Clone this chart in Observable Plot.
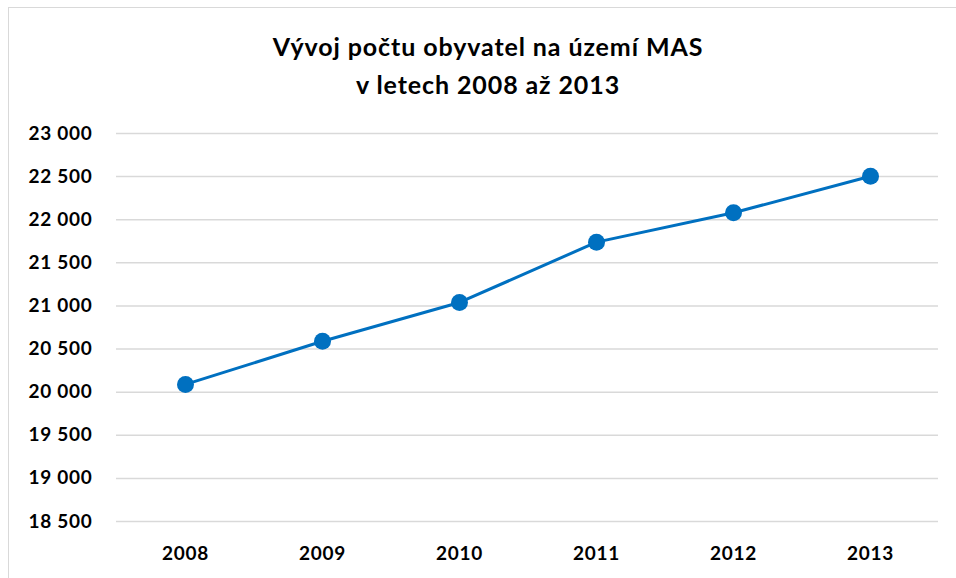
<!DOCTYPE html>
<html>
<head>
<meta charset="utf-8">
<script src="https://cdn.jsdelivr.net/npm/d3@7"></script>
<script src="https://cdn.jsdelivr.net/npm/@observablehq/plot@0.6"></script>
<style>
  html, body { margin: 0; padding: 0; background: #fff; }
  #wrap { position: relative; width: 956px; height: 578px; overflow: hidden; font-family: Lato, "Open Sans", sans-serif; }
  #frame { position: absolute; left: 8px; top: 7px; width: 1000px; height: 700px; border: 1.5px solid #d9d9d9; box-sizing: border-box; }
  #title { position: absolute; left: 0; top: 27px; width: 976px; text-align: center; font-weight: 700; font-size: 25px; letter-spacing: 0.9px; line-height: 38px; color: #000; }
  #chart { position: absolute; left: 0; top: 110px; }
</style>
</head>
<body>
<div id="wrap">
  <div id="frame"></div>
  <div id="title">Vývoj počtu obyvatel na území MAS<br>v letech 2008 až 2013</div>
  <div id="chart"></div>
</div>
<script>
const years = ["2008", "2009", "2010", "2011", "2012", "2013"];
const population = [20090, 20590, 21040, 21740, 22080, 22505];
const yTicks = [18500, 19000, 19500, 20000, 20500, 21000, 21500, 22000, 22500, 23000];

const data = years.map((y, i) => ({year: y, value: population[i]}));
const fmt = d => d3.format(",")(d).replace(/,/g, " ");

const chart = Plot.plot({
  width: 956,
  height: 468,
  marginLeft: 116,
  marginRight: 18,
  marginTop: 23,
  marginBottom: 57,
  style: {fontFamily: "Lato, 'Open Sans', sans-serif", fontSize: "19px", fontWeight: "700", letterSpacing: "0.7px", color: "#000", background: "transparent"},
  x: {type: "point", domain: years, padding: 0.5, label: null, tickSize: 0, tickPadding: 25},
  y: {domain: [18500, 23000], ticks: yTicks, tickFormat: fmt, label: null, tickSize: 0, tickPadding: 24},
  marks: [
    Plot.ruleY(yTicks, {stroke: "#d9d9d9", strokeWidth: 1.5}),
    Plot.line(data, {x: "year", y: "value", stroke: "#0070c0", strokeWidth: 3}),
    Plot.dot(data, {x: "year", y: "value", r: 8.5, fill: "#0070c0", stroke: "none"})
  ]
});
document.getElementById("chart").appendChild(chart);
</script>
</body>
</html>
